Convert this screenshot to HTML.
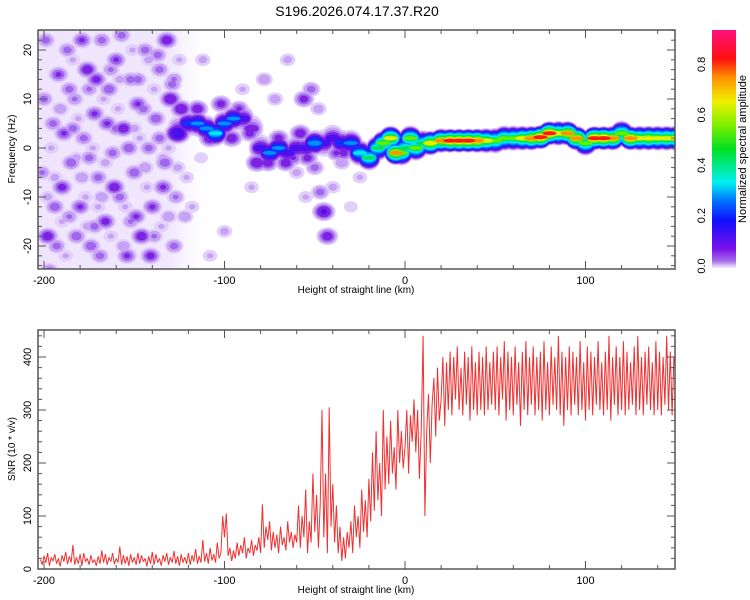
<!DOCTYPE html>
<html><head><meta charset="utf-8"><style>
body{margin:0;background:#fff;}
svg{display:block;font-family:"Liberation Sans",sans-serif;}
</style></head><body>
<svg id="c" width="750" height="600" xmlns="http://www.w3.org/2000/svg">
<defs><linearGradient id="cb" x1="0" y1="1" x2="0" y2="0">
<stop offset="0" stop-color="#f4eefd"/><stop offset="0.03" stop-color="#a66cec"/><stop offset="0.08" stop-color="#7a10e8"/>
<stop offset="0.2" stop-color="#1010ff"/><stop offset="0.28" stop-color="#0070ff"/><stop offset="0.36" stop-color="#00f0f0"/>
<stop offset="0.5" stop-color="#00e020"/><stop offset="0.6" stop-color="#80f000"/><stop offset="0.7" stop-color="#f0f000"/>
<stop offset="0.8" stop-color="#ff9000"/><stop offset="0.88" stop-color="#ff1010"/><stop offset="1" stop-color="#ff1080"/>
</linearGradient>
<linearGradient id="hz" x1="0" y1="0" x2="1" y2="0">
<stop offset="0" stop-color="#efe4fc"/><stop offset="0.75" stop-color="#f1e8fd"/><stop offset="1" stop-color="#ffffff" stop-opacity="0"/>
</linearGradient>
<clipPath id="tc"><rect x="38" y="30" width="637" height="239"/></clipPath>
<clipPath id="bc"><rect x="38" y="330" width="637" height="239"/></clipPath></defs>
<text x="357" y="16" text-anchor="middle" font-size="14">S196.2026.074.17.37.R20</text>
<g id="spec" clip-path="url(#tc)"></g>
<g id="snr" clip-path="url(#bc)"></g>
<g id="axes"></g>
<rect x="712" y="30" width="24" height="238" fill="url(#cb)"/>
<text transform="translate(746,149) rotate(-90)" text-anchor="middle" font-size="11">Normalized spectral amplitude</text>
</svg>
<script>
// ---- data ----
const snrStart=-202, snrStep=1;
const snrValues=[18,8,25,12,30,6,22,15,28,10,
20,5,26,14,32,9,24,12,45,8,
22,10,28,6,30,14,20,8,26,12,
18,6,24,10,35,12,28,8,22,14,
30,9,20,12,42,8,26,10,24,6,
28,12,22,8,30,10,26,14,20,5,
24,10,32,8,28,12,20,6,26,14,
30,8,22,12,34,10,24,6,28,12,
22,10,30,8,26,14,38,10,24,12,
55,14,30,10,40,16,28,12,50,20,
30,100,60,105,25,40,15,35,20,50,25,45,30,60,20,40,30,55,25,45,35,60,
30,122,40,80,55,90,35,70,40,65,30,80,45,60,35,90,50,70,40,65,
50,120,40,100,60,150,30,90,50,180,70,140,40,120,300,60,180,30,305,80,
160,50,120,30,80,15,60,20,70,40,
90,30,120,60,100,40,150,70,130,60,
170,90,220,110,260,130,200,100,300,150,
250,160,280,180,230,150,300,200,260,190,
230,300,180,290,240,320,220,300,170,260,
440,100,260,330,200,310,360,250,380,280,
320,400,270,390,300,410,290,400,320,420,300,380,290,410,310,400,280,420,300,390,290,410,300,400,290,420,300,390,310,410,
300,420,290,400,320,430,280,410,300,400,
290,420,310,390,270,410,300,430,290,400,
310,420,290,400,300,410,280,430,300,390,
290,420,310,400,300,440,290,410,270,400,
300,420,290,410,310,400,290,430,300,390,
280,420,300,410,290,400,310,430,300,390,
290,410,300,440,280,400,310,420,290,400,
300,430,290,410,300,390,310,420,290,440,
300,400,290,410,310,420,300,390,290,430,
300,410,290,400,310,440,300,410,290,400,
380];
const ridgeX=[-125,-120,-115,-110,-105,-100,-95,-90,-85,-80,-75,-70,-65,-60,-55,-50,-45,-40,-35,-30,-25,-20,-15,-12,-8,-5,-2,0,3,6,10,14,20,25,30,35,40,45,50,55,60,65,70,75,80,85,90,95,100,105,110,115,120,125,130,135,140,145,150];
const ridgeF=[4,5,5,4,3,5,6,6,4,0,-1,0,-1,0,0,1,1,2,1,1,-1,-2,0,1,2,-1,-1,0,2,0,1,1,1.5,1.5,1.5,1.5,1.5,1.5,1.5,2,2,2,2,2.2,3,3,3,2,1,2,2,2,3,2,2,2,2,2,2];
const ridgeA=[.15,.25,.3,.3,.4,.3,.3,.2,.15,.2,.3,.3,.2,.2,.2,.35,.2,.2,.25,.3,.4,.5,.5,.6,.7,.8,.6,.5,.6,.6,.5,.75,.8,.9,.9,.9,.85,.7,.6,.6,.6,.7,.8,.9,.9,.7,.8,.8,.6,.9,.9,.8,.6,.85,.7,.75,.7,.7,.7];
const blobX=[-198,-195,-192,-190,-187,-185,-183,-180,-178,-176,-174,-172,-170,-168,-166,-164,-162,-160,-158,-156,-154,-152,-150,-148,-146,-144,-142,-140,-138,-136,-134,-132,-130,-128,-126,-124,-122,
-200,-197,-194,-189,-186,-182,-179,-175,-171,-169,-165,-161,-157,-153,-149,-145,-141,-137,-133,-129,-127,
-118,-112,-108,-100,-90,-85,-78,-72,-65,-60,-55,-48,-45,-43,-47,-50,-52,-56,-40,-35,-30,-25,
-196,-190,-184,-177,-173,-167,-163,-155,-151,-147,-143,-139,-135,-131,-125,-121,-117,-113,-188,-181,-159,-170,
-201,-199,-193,-191,-186,-184,-179,-175,-172,-168,-163,-160,-156,-152,-148,-144,-139,-136,-131,-128,-198,-182,-166,-150,-134,-194,-176,-158,-142,-126,
-115,-108,-102,-96,-92,-86,-82,-76,-70,-66,-62,-58,-54,-38,-34];
const blobF=[-18,5,15,-8,20,-3,10,-12,2,16,-20,7,-6,22,-15,12,-1,18,-10,4,-22,14,-5,9,-18,20,0,-12,6,16,-8,22,10,-20,3,8,-14,
10,-25,-12,3,12,-18,22,-2,14,-22,5,-8,23,0,-14,8,-22,19,-3,13,-10,
-12,18,-22,-17,12,-8,14,10,18,-5,-10,8,-13,-18,-9,-4,12,10,-8,-3,-12,-6,
0,-15,18,-10,0,10,-18,-12,20,2,-8,12,-16,0,18,-6,5,-2,-22,6,8,-12,
-5,22,-20,8,-14,4,-6,12,-16,-10,16,4,-20,-15,14,-4,-18,2,-14,14,-10,-2,-3,4,-2,-6,-16,14,18,-4,
8,2,9,2,8,3,-3,-3,2,-3,-2,3,-2,-1,-1];
const blobA=[.14,.1,.12,.13,.1,.11,.09,.12,.1,.14,.11,.12,.1,.1,.13,.11,.1,.12,.1,.14,.12,.1,.11,.12,.14,.1,.1,.12,.11,.1,.12,.14,.15,.1,.2,.15,.08,
.1,.1,.11,.12,.1,.11,.12,.1,.13,.1,.12,.14,.1,.11,.12,.1,.13,.1,.11,.1,.09,
.05,.06,.05,.06,.05,.05,.08,.07,.06,.06,.05,.07,.16,.14,.1,.1,.1,.13,.06,.08,.04,.05,
.05,.05,.05,.05,.05,.05,.05,.05,.05,.05,.05,.05,.05,.05,.05,.05,.04,.04,.05,.05,.05,.05,
.09,.1,.1,.08,.09,.1,.08,.09,.1,.08,.09,.1,.08,.09,.1,.08,.09,.1,.08,.09,.06,.06,.06,.06,.06,.06,.06,.06,.06,.06,
.14,.15,.13,.14,.12,.13,.15,.14,.13,.14,.12,.14,.13,.12,.13];
const hazeRange=[-203,-105];
const xTicks=[-200,-100,0,100];
const fTicks=[-20,-10,0,10,20];
const snrTicks=[0,100,200,300,400];
const cbTicks=[0.0,0.2,0.4,0.6,0.8];
// ---- scales ----
const NS='http://www.w3.org/2000/svg';
const X=v=>405+v*1.805;
const F=v=>148-v*4.9;
const S=v=>569-v*0.53;
const CB=v=>266-v*252;
const levels=[0,.04,.08,.11,.15,.2,.28,.35,.45,.55,.65,.75,.85,.95];
const cols=['#e2d0fa','#c7a2f4','#a066ec','#7d22e2','#4a10ee','#1030ff','#0090ff','#00e8f0','#00e060','#60f000','#e8f000','#ff9000','#ff1818','#ff1080'];
function mk(tag,attrs,parent){const e=document.createElementNS(NS,tag);for(const k in attrs)e.setAttribute(k,attrs[k]);parent.appendChild(e);return e;}
const spec=document.getElementById('spec');
const hz=mk('rect',{x:X(hazeRange[0]),y:30,width:X(hazeRange[1])-X(hazeRange[0]),height:239,fill:'url(#hz)'},spec);


levels.forEach((l,li)=>{
  blobX.forEach((bx,i)=>{const a=blobA[i];if(a<=l)return;const R=5+a*40;const s=Math.sqrt(1-l/a);
    const e=mk('ellipse',{cx:X(bx),cy:F(blobF[i]),rx:R*1.05*s,ry:R*0.85*s,fill:cols[li]},spec);
    
    });
  ridgeX.forEach((rx,i)=>{const a=ridgeA[i];if(a<=l)return;const s=1-l/a;const ry=(14-a*2)*s;
    const e=mk('ellipse',{cx:X(rx),cy:F(ridgeF[i]),rx:Math.max(7,12*Math.sqrt(s)),ry:Math.max(2,ry),fill:cols[li]},spec);
    
    });
});
// SNR line
let d='';snrValues.forEach((v,i)=>{d+=(i?'L':'M')+X(snrStart+i*snrStep).toFixed(1)+','+S(v).toFixed(1);});
const ln=mk('path',{d:d,fill:'none',stroke:'#f03030','stroke-width':1,'stroke-linejoin':'bevel'},document.getElementById('snr'));


// axes
const ax=document.getElementById('axes');
function frame(top,name){const r=mk('rect',{x:38,y:top,width:637,height:239,fill:'none',stroke:'#555','stroke-width':1.5},ax);
  }
frame(30,'spectrogram-frame');frame(330,'snr-frame');
[[30,269,281],[330,569,581]].forEach(([t,b,ly])=>{
  for(let v=-200;v<=140;v+=20){const x=X(v);const L=v%100===0?8:4;
    mk('line',{x1:x,x2:x,y1:b,y2:b-L,stroke:'#555'},ax);mk('line',{x1:x,x2:x,y1:t,y2:t+L,stroke:'#555'},ax);}
  xTicks.forEach(v=>{const e=mk('text',{x:X(v),y:ly+3,'text-anchor':'middle','font-size':11},ax);e.textContent=v;
    });
  const tt=mk('text',{x:356,y:ly+12,'text-anchor':'middle','font-size':10},ax);tt.textContent='Height of straight line (km)';
  
});
for(let v=-24;v<=24;v+=2){const y=F(v);const L=v%10===0?8:4;mk('line',{x1:38,x2:38+L,y1:y,y2:y,stroke:'#555'},ax);mk('line',{x1:675,x2:675-L,y1:y,y2:y,stroke:'#555'},ax);}
fTicks.forEach(v=>{const e=mk('text',{transform:`translate(31,${F(v)}) rotate(-90)`,'text-anchor':'middle','font-size':11},ax);e.textContent=v;
  });
for(let v=0;v<=440;v+=20){const y=S(v);const L=v%100===0?8:4;mk('line',{x1:38,x2:38+L,y1:y,y2:y,stroke:'#555'},ax);mk('line',{x1:675,x2:675-L,y1:y,y2:y,stroke:'#555'},ax);}
snrTicks.forEach(v=>{const e=mk('text',{transform:`translate(31,${S(v)}) rotate(-90)`,'text-anchor':'middle','font-size':11},ax);e.textContent=v;
  });
cbTicks.forEach(v=>{const e=mk('text',{transform:`translate(705,${CB(v)}) rotate(-90)`,'text-anchor':'middle','font-size':11},ax);e.textContent=v.toFixed(1);
  });
const yt1=mk('text',{transform:'translate(15,149) rotate(-90)','text-anchor':'middle','font-size':10},ax);yt1.textContent='Frequency (Hz)';

const yt2=mk('text',{transform:'translate(15,449) rotate(-90)','text-anchor':'middle','font-size':10},ax);yt2.textContent='SNR (10 * v/v)';

</script>
</body></html>
